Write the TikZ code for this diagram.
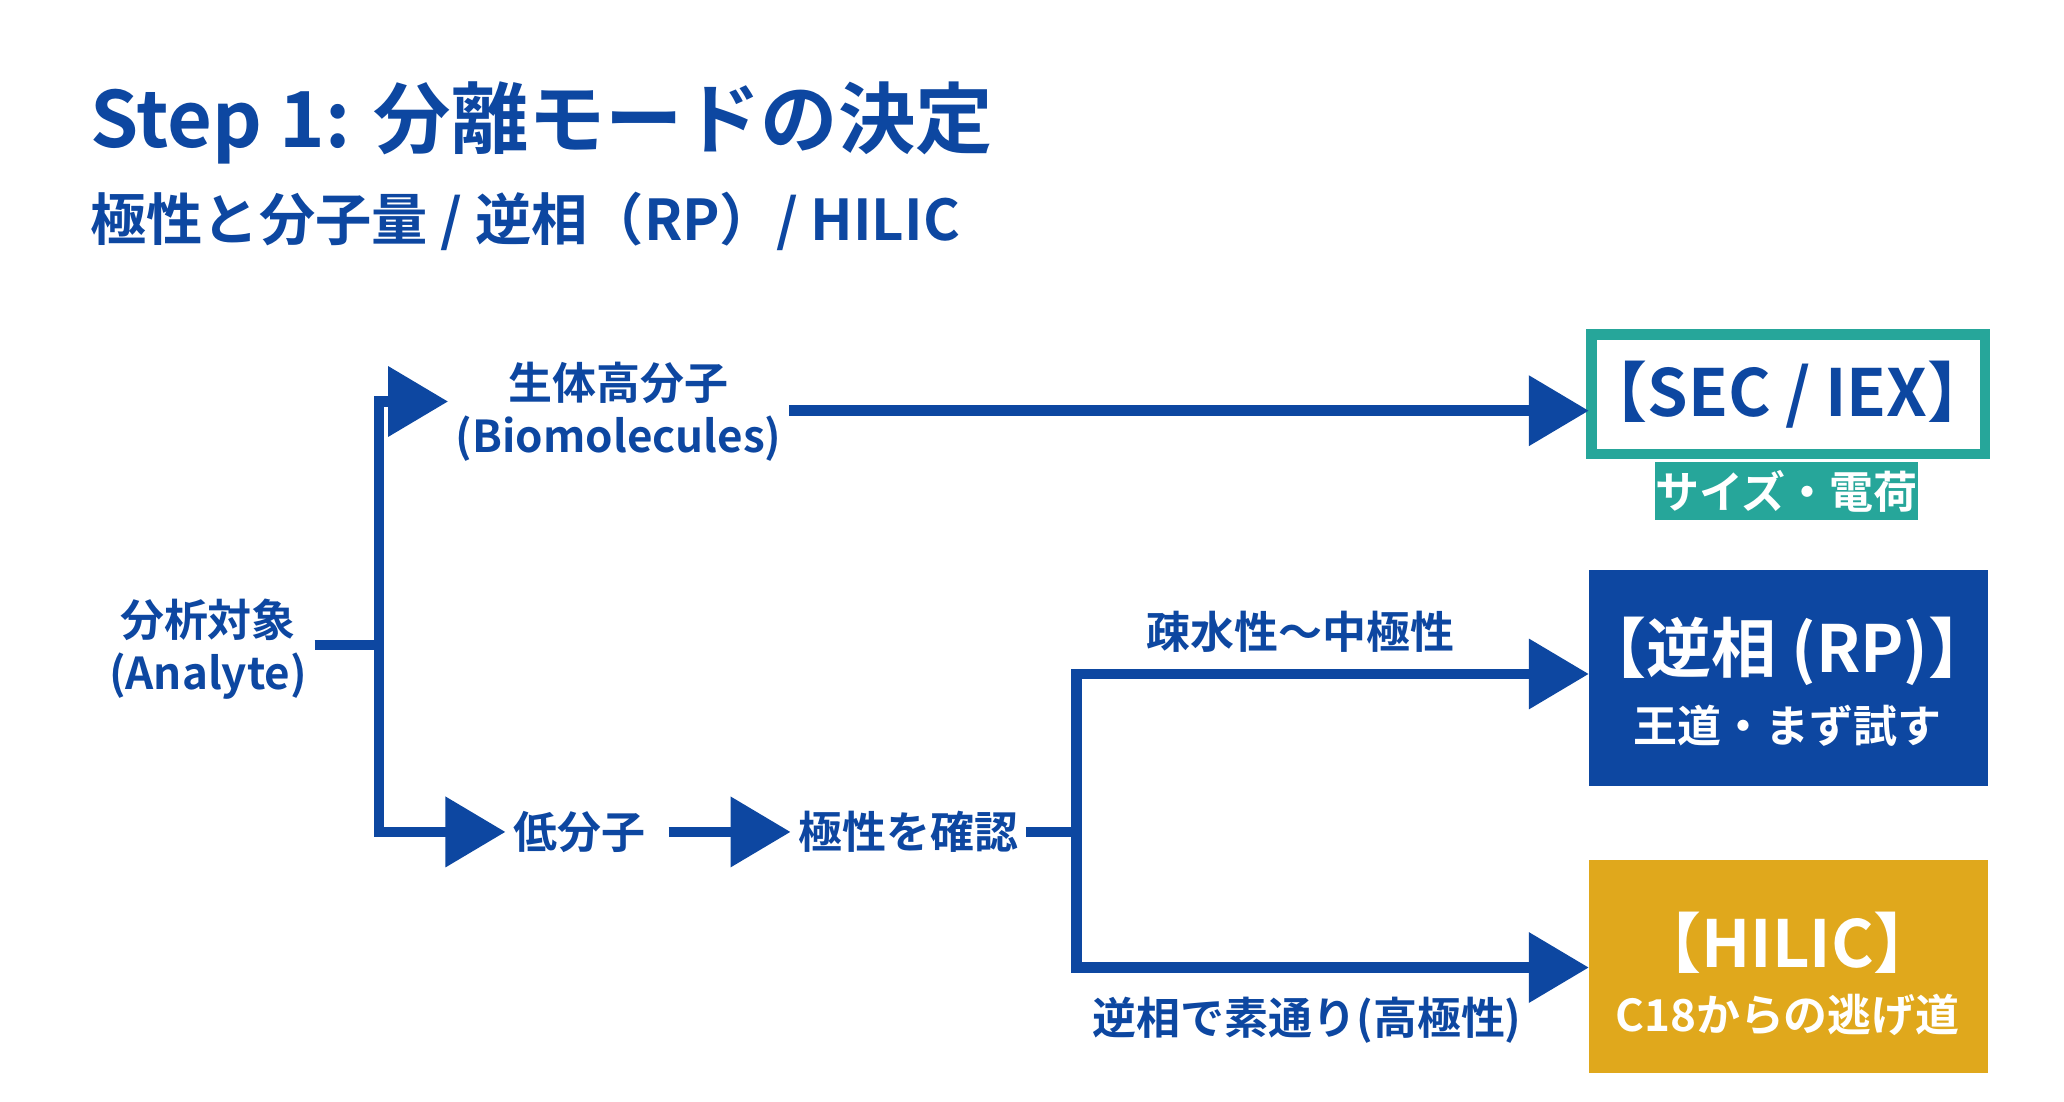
\documentclass[tikz,border=0pt]{standalone}
\usepackage{fontspec}
\setmainfont{Noto Sans CJK JP}[BoldFont=* Bold]
\usetikzlibrary{arrows.meta}
\definecolor{navy}{HTML}{0D47A1}
\definecolor{teal}{HTML}{26A69A}
\definecolor{gold}{HTML}{E0A81C}
\begin{document}
\begin{tikzpicture}[x=0.01316cm,y=-0.01316cm,
  ln/.style={draw=navy,line width=3pt},
  ar/.style={ln,-{Triangle[length=0.6cm,width=0.68cm]}},
  lbl/.style={text=navy,font=\bfseries\fontsize{12.5}{15}\selectfont,align=center,inner sep=2pt},
  bt/.style={text=white,font=\bfseries\fontsize{18.5}{22}\selectfont},
  bs/.style={text=white,font=\bfseries\fontsize{12.5}{15}\selectfont}]
\useasboundingbox[fill=white] (0,0) rectangle (1568,837);
\node[anchor=base west,text=navy,font=\bfseries\fontsize{22}{26}\selectfont,inner sep=0] (title) at (68,112) {Step 1: 分離モードの決定};
\node[anchor=base west,text=navy,font=\bfseries\fontsize{16}{20}\selectfont,inner sep=0] (sub) at (68,183) {極性と分子量 / 逆相（RP）/ HILIC};
\node[lbl] (an) at (158,493) {分析対象\\(Analyte)};
\node[lbl] (bio) at (470,313) {生体高分子\\(Biomolecules)};
\node[lbl] (low) at (440,632) {低分子};
\node[lbl] (chk) at (690,632) {極性を確認};
\coordinate (j1) at (288,490);
\coordinate (j1t) at (288,305);
\coordinate (j1b) at (288,632);
\coordinate (j2) at (818,632);
\coordinate (j2t) at (818,512);
\coordinate (j2b) at (818,735);
% boxes
\path[draw=teal,line width=3pt,fill=white] (1209,254) rectangle (1508,345);
\node[bt,text=navy] (sect) at (1358,300) {【SEC / IEX】};
\node[fill=teal,minimum width=195*0.01316cm,minimum height=44*0.01316cm,inner sep=0,bs] (secl) at (1357,373) {サイズ・電荷};
\fill[navy] (1207,433) rectangle (1510,597);
\node[bt] (rp) at (1358,495) {【逆相 (RP)】};
\node[bs] (rps) at (1358,551) {王道・まず試す};
\fill[gold] (1207,653) rectangle (1510,815);
\node[bt] (hil) at (1358,716) {【HILIC】};
\node[bs] (hils) at (1358,771) {C18からの逃げ道};
\coordinate (secin) at (1207,312);
\coordinate (rpin) at (1207,512);
\coordinate (hilin) at (1207,735);
% connectors
\draw[ln] (an.east) ++(0,-3) -- (j1);
\draw[ln,line cap=rect] (j1t) -- (j1b);
\draw[ar] (j1t) -- (bio.west |- j1t);
\draw[ar] (j1b) -- (low.west);
\draw[ar] (bio.east |- secin) -- (secin);
\draw[ar] (low.east) ++(12,0) -- (chk.west);
\draw[ln] (chk.east) -- (j2);
\draw[ln,line cap=rect] (j2t) -- (j2b);
\draw[ar] (j2t) -- (rpin);
\draw[ar] (j2b) -- (hilin);
\node[lbl] (l1) at (988,480) {疎水性〜中極性};
\node[lbl] (l2) at (993,775) {逆相で素通り(高極性)};
\end{tikzpicture}
\end{document}
